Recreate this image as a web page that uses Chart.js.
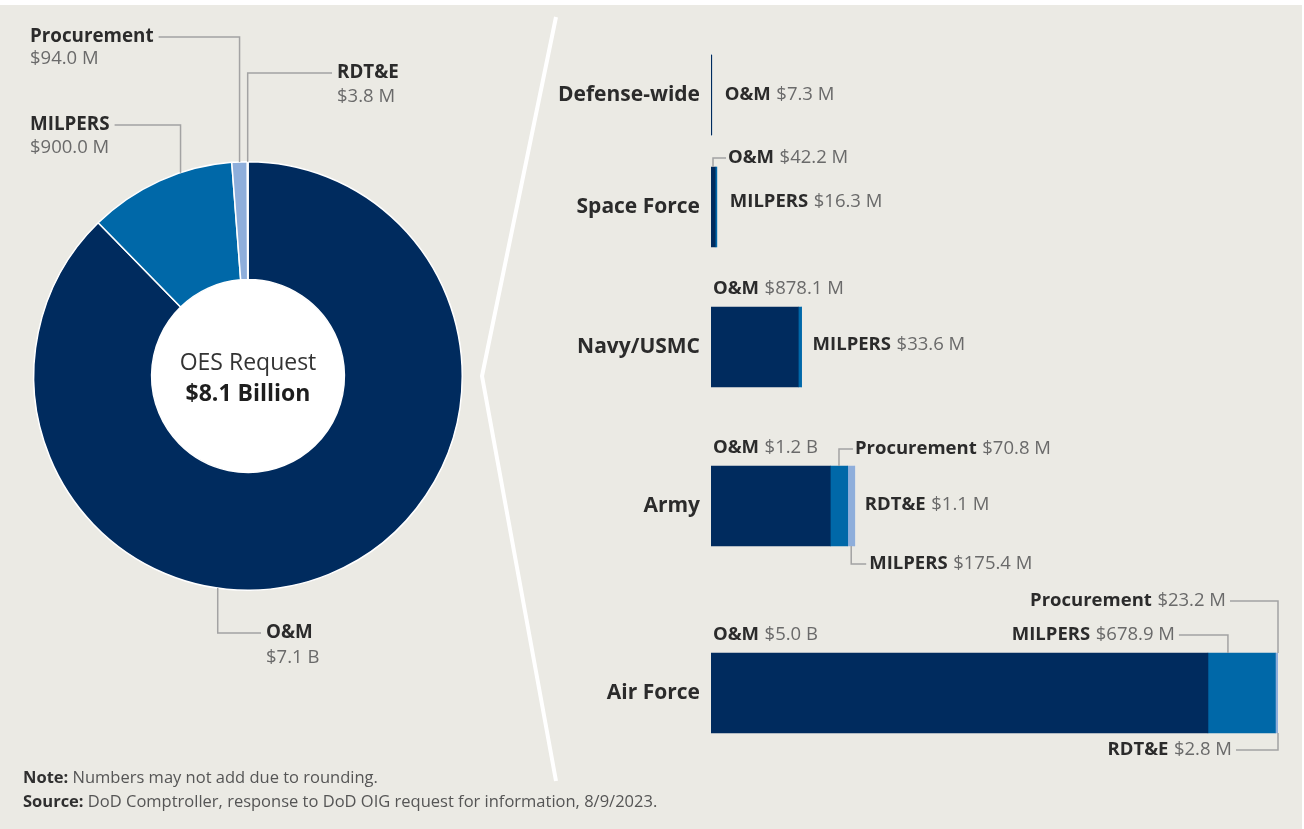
<!DOCTYPE html>
<html>
<head>
<meta charset="utf-8">
<script src="https://cdn.jsdelivr.net/npm/chart.js@4.4.0/dist/chart.umd.min.js"></script>
<style>
  html, body { margin: 0; padding: 0; background: #fff; }
  #page { position: relative; width: 1304px; height: 829px; overflow: hidden; font-family: "Open Sans", sans-serif; }
  #panel { position: absolute; left: 0; top: 5px; width: 1302px; height: 824px; background: #ebeae4; }
  canvas { position: absolute; }
  .notes { position: absolute; left: 23px; top: 765px; font-size: 16.5px; line-height: 24px; color: #555; }
  .notes b { color: #2f2f2f; }
</style>
</head>
<body>
<div id="page">
  <div id="panel"></div>
  <canvas id="donut" width="600" height="829" style="left:0;top:0"></canvas>
  <div class="notes">
    <div><b>Note:</b> Numbers may not add due to rounding.</div>
    <div><b>Source:</b> DoD Comptroller, response to DoD OIG request for information, 8/9/2023.</div>
  </div>
</div>
<script>
// OES request by appropriation, $ millions
const appropriations = ['O&M', 'MILPERS', 'Procurement', 'RDT&E'];
const totalValues = [7100, 900.0, 94.0, 3.8];

// by service, $ millions
const services = ['Defense-wide', 'Space Force', 'Navy/USMC', 'Army', 'Air Force'];
const omValues = [7.3, 42.2, 878.1, 1200, 5000];
const milpersValues = [0, 16.3, 33.6, 175.4, 678.9];
const procurementValues = [0, 0, 0, 70.8, 23.2];
const rdteValues = [0, 0, 0, 1.1, 2.8];

const seriesValues = [omValues, milpersValues, procurementValues, rdteValues];
const colors = ['#002b5e', '#0068a8', '#8eaedb', '#c3d3ea'];
const rowCenters = [95, 207, 347, 506, 693];

const nameColor = '#2b2b2b';
const valueColor = '#6a6a6a';
const leaderColor = '#a3a3a3';

function fmt(v) {
    return v >= 1000 ? '$' + (v / 1000).toFixed(1) + ' B' : '$' + v.toFixed(1) + ' M';
}

function drawPair(ctx, name, value, x, y, size, align) {
    ctx.textBaseline = 'middle';
    ctx.textAlign = 'left';
    ctx.font = 'bold ' + size + 'px "Open Sans"';
    const wName = ctx.measureText(name).width;
    const wSpace = size * 0.3;
    ctx.font = size + 'px "Open Sans"';
    const wVal = ctx.measureText(value).width;
    let x0 = align === 'right' ? x - (wName + wSpace + wVal) : x;
    ctx.font = 'bold ' + size + 'px "Open Sans"';
    ctx.fillStyle = nameColor;
    ctx.fillText(name, x0, y);
    ctx.font = size + 'px "Open Sans"';
    ctx.fillStyle = valueColor;
    ctx.fillText(value, x0 + wName + wSpace, y);
}

function drawLine(ctx, pts, color, width) {
    ctx.save();
    ctx.strokeStyle = color;
    ctx.lineWidth = width;
    ctx.beginPath();
    pts.forEach((p, i) => i ? ctx.lineTo(p[0], p[1]) : ctx.moveTo(p[0], p[1]));
    ctx.stroke();
    ctx.restore();
}

// ---------- donut ----------
const donutCallouts = [
    { index: 2, frac: 0.5, tx: 30, ty: 37, gap: 22 },
    { index: 3, frac: 0.5, tx: 337, ty: 73, gap: 24 },
    { index: 1, frac: 0.65, tx: 30, ty: 125, gap: 23 },
    { index: 0, frac: 0.596, tx: 266, ty: 633, gap: 25 }
];

const donutDecor = {
    id: 'donutDecor',
    beforeDatasetsDraw(chart) {
        const a = chart.getDatasetMeta(0).data[0];
        const ctx = chart.ctx;
        ctx.save();
        ctx.fillStyle = '#fff';
        ctx.beginPath();
        ctx.arc(a.x, a.y, a.innerRadius + 1, 0, Math.PI * 2);
        ctx.fill();
        ctx.restore();
    },
    afterDatasetsDraw(chart) {
        const ctx = chart.ctx;
        const arcs = chart.getDatasetMeta(0).data;
        const c = arcs[0];
        ctx.save();

        // centre text
        const total = totalValues.reduce((s, v) => s + v, 0);
        ctx.textAlign = 'center';
        ctx.textBaseline = 'middle';
        ctx.fillStyle = '#333';
        ctx.font = '23px "Open Sans"';
        ctx.fillText('OES Request', c.x, c.y - 13);
        ctx.font = 'bold 23px "Open Sans"';
        ctx.fillStyle = '#1e1e1e';
        ctx.fillText('$' + (total / 1000).toFixed(1) + ' Billion', c.x, c.y + 18);

        // callouts
        donutCallouts.forEach(co => {
            const a = arcs[co.index];
            const ang = a.startAngle + (a.endAngle - a.startAngle) * co.frac;
            const px = a.x + Math.cos(ang) * a.outerRadius;
            const py = a.y + Math.sin(ang) * a.outerRadius;
            ctx.font = 'bold 18.8px "Open Sans"';
            const name = appropriations[co.index];
            const w = ctx.measureText(name).width;
            const edge = px < co.tx ? co.tx - 5 : co.tx + w + 5;
            drawLine(ctx, [[edge, co.ty], [px, co.ty], [px, py]], leaderColor, 1.5);
            ctx.textAlign = 'left';
            ctx.textBaseline = 'middle';
            ctx.fillStyle = nameColor;
            ctx.fillText(name, co.tx, co.ty);
            ctx.font = '18.5px "Open Sans"';
            ctx.fillStyle = valueColor;
            ctx.fillText(fmt(totalValues[co.index]), co.tx, co.ty + co.gap);
        });

        // white divider
        ctx.lineJoin = 'miter';
        drawLine(ctx, [[556, 17], [482, 376], [556, 781]], '#ffffff', 4);
        ctx.restore();
    }
};

new Chart(document.getElementById('donut'), {
    type: 'doughnut',
    data: {
        labels: appropriations,
        datasets: [{
            data: totalValues,
            backgroundColor: colors,
            borderColor: '#ffffff',
            borderWidth: 1.5
        }]
    },
    options: {
        responsive: false,
        animation: false,
        cutout: '45%',
        layout: { padding: { left: 33, top: 161, right: 137, bottom: 238 } },
        plugins: { legend: { display: false }, tooltip: { enabled: false } }
    },
    plugins: [donutDecor]
});

// ---------- service rows ----------
const xMax = Math.max(...services.map((s, i) => seriesValues.reduce((t, arr) => t + arr[i], 0)));

const rowCallouts = [
    // Defense-wide
    d => { d.pair(0, d.end + 13, d.mid); },
    // Space Force
    d => {
        const x = d.left + 2;
        d.line([[x, d.top], [x, d.top - 9], [x + 13, d.top - 9]]);
        d.pair(0, x + 15, d.top - 9);
        d.pair(1, d.end + 13, d.mid - 5);
    },
    // Navy/USMC
    d => {
        d.pair(0, d.left + 2, d.top - 18);
        d.pair(1, d.end + 11, d.mid - 2);
    },
    // Army
    d => {
        const xa = (d.s[1].l + d.s[1].r) / 2;
        const xb = (d.s[2].l + d.s[2].r) / 2;
        d.pair(0, d.left + 2, d.top - 18);
        d.line([[xa, d.top], [xa, d.top - 17], [xa + 14, d.top - 17]]);
        d.pair(2, xa + 16, d.top - 17);
        d.pair(3, d.end + 10, d.mid - 1);
        d.line([[xb, d.bottom], [xb, d.bottom + 18], [xb + 15, d.bottom + 18]]);
        d.pair(1, xb + 18, d.bottom + 18);
    },
    // Air Force
    d => {
        d.pair(0, d.left + 2, d.top - 18);
        const xm = d.s[1].l + 20;
        d.line([[xm, d.top], [xm, d.top - 18], [xm - 49, d.top - 18]]);
        d.pair(1, xm - 53, d.top - 18, 'right');
        d.line([[d.end, d.top], [d.end, d.top - 52], [d.end - 48, d.top - 52]]);
        d.pair(2, d.end - 52, d.top - 52, 'right');
        d.line([[d.end, d.bottom], [d.end, d.bottom + 17], [d.end - 42, d.bottom + 17]]);
        d.pair(3, d.end - 46, d.bottom + 17, 'right');
    }
];

const rowLabels = {
    id: 'rowLabels',
    afterDatasetsDraw(chart, args, opts) {
        const ctx = chart.ctx;
        const s = chart.data.datasets.map((ds, k) => {
            const el = chart.getDatasetMeta(k).data[0];
            return { l: Math.min(el.x, el.base), r: Math.max(el.x, el.base), t: el.y - el.height / 2, b: el.y + el.height / 2, y: el.y };
        });
        const d = {
            s: s,
            left: s[0].l,
            end: Math.max(...s.map(o => o.r)),
            top: s[0].t,
            bottom: s[0].b,
            mid: s[0].y,
            pair: (k, x, y, align) => drawPair(ctx, appropriations[k], fmt(chart.data.datasets[k].data[0]), x, y, 18.5, align),
            line: pts => drawLine(ctx, pts, leaderColor, 1.5)
        };
        ctx.save();
        rowCallouts[opts.row](d);
        ctx.restore();
    }
};

const page = document.getElementById('page');
const notes = document.querySelector('.notes');
services.forEach((name, i) => {
    const cv = document.createElement('canvas');
    cv.width = 764;
    cv.height = 210;
    cv.style.left = '540px';
    cv.style.top = (rowCenters[i] - 105) + 'px';
    page.insertBefore(cv, notes);

    new Chart(cv, {
        type: 'bar',
        data: {
            labels: [name],
            datasets: appropriations.map((a, k) => ({
                label: a,
                data: [seriesValues[k][i]],
                backgroundColor: colors[k],
                barThickness: 80
            }))
        },
        options: {
            indexAxis: 'y',
            responsive: false,
            animation: false,
            layout: { padding: { right: 26 } },
            plugins: {
                legend: { display: false },
                tooltip: { enabled: false },
                rowLabels: { row: i }
            },
            scales: {
                x: { display: false, stacked: true, min: 0, max: xMax },
                y: {
                    stacked: true,
                    grid: { display: false, drawTicks: false },
                    border: { display: false },
                    ticks: {
                        color: nameColor,
                        padding: 11,
                        font: { family: 'Open Sans', size: 21, weight: 'bold' }
                    },
                    afterFit: function(scale) {
                        scale.width = 171;
                    }
                }
            }
        },
        plugins: [rowLabels]
    });
});
</script>
</body>
</html>
